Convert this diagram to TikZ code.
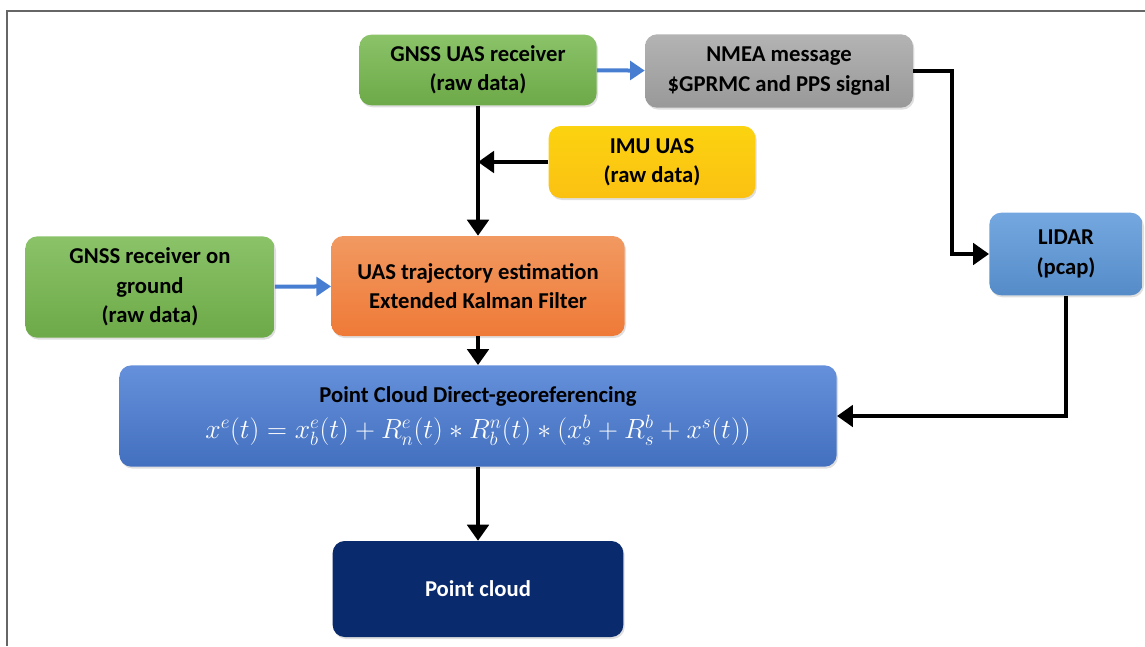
\documentclass[tikz,border=0pt]{standalone}
\usepackage{fontspec}
\setmainfont{Carlito}
\usetikzlibrary{arrows.meta,shadows}

\definecolor{gnssgreen}{RGB}{118,184,78}
\definecolor{nmeagray}{RGB}{166,166,166}
\definecolor{imuyellow}{RGB}{250,200,20}
\definecolor{trajorange}{RGB}{238,128,58}
\definecolor{lidarblue}{RGB}{92,152,218}
\definecolor{geoblue}{RGB}{74,124,212}
\definecolor{cloudnavy}{RGB}{10,42,110}
\definecolor{linkblue}{RGB}{72,126,210}

\tikzset{
  box/.style={rounded corners=9pt, align=center, inner sep=2pt,
    font=\fontsize{17}{22}\selectfont\bfseries,
    drop shadow={opacity=0.25, shadow xshift=1pt, shadow yshift=-1.5pt}},
  blackarrow/.style={line width=3.6pt, -{Triangle[width=16pt,length=12pt]}},
  bluearrow/.style={line width=3pt, linkblue, -{Triangle[width=14pt,length=11pt]}}
}

\begin{document}
\begin{tikzpicture}[x=0.75pt,y=-0.75pt]
\useasboundingbox (0,0) rectangle (1145,646);
\draw[gray!80!black, line width=1.2pt] (7,646) -- (7,11) -- (1145,11);

\node (uas) at (478,70) [box, top color=gnssgreen!85!white, bottom color=gnssgreen!92!black,
  minimum width=178pt, minimum height=53pt] {GNSS UAS receiver\\(raw data)};
\node (nmea) at (779,71) [box, top color=nmeagray!85!white, bottom color=nmeagray!92!black,
  minimum width=201pt, minimum height=55pt] {NMEA message\\\$GPRMC and PPS signal};
\node (imu) at (652,162) [box, top color=imuyellow!80!yellow, bottom color=imuyellow!90!orange,
  minimum width=155pt, minimum height=54pt] {IMU UAS\\(raw data)};
\node (ground) at (150,287) [box, top color=gnssgreen!85!white, bottom color=gnssgreen!92!black,
  minimum width=187pt, minimum height=76pt] {GNSS receiver on\\ground\\(raw data)};
\node (traj) at (478,286) [box, top color=trajorange!80!white, bottom color=trajorange!95!red,
  minimum width=220pt, minimum height=75pt] {UAS trajectory estimation\\Extended Kalman Filter};
\node (lidar) at (1066,254) [box, top color=lidarblue!85!white, bottom color=lidarblue!92!black,
  minimum width=115pt, minimum height=62pt] {LIDAR\\(pcap)};
\node (geo) at (478,416) [box, top color=geoblue!85!white, bottom color=geoblue!90!black,
  minimum width=538pt, minimum height=76pt]
  {Point Cloud Direct-georeferencing\\[5pt]
   \textcolor{white}{\mdseries\fontsize{19.5}{22}\selectfont
   $x^e(t) = x_b^e(t) + R_n^e(t) * R_b^n(t) * (x_s^b + R_s^b + x^s(t))$}};
\node (cloud) at (478,589) [box, fill=cloudnavy, text=white,
  minimum width=218pt, minimum height=72pt] {Point cloud};

\coordinate (nbend) at (952,71);

\draw[bluearrow] (uas) -- (nmea);
\draw[bluearrow] (ground) -- (traj);
\draw[blackarrow] (uas) -- (traj);
\draw[blackarrow] (imu) -- (imu -| uas);
\draw[blackarrow] (nmea) -- (nbend) |- (lidar);
\draw[blackarrow] (lidar) |- (geo);
\draw[blackarrow] (traj) -- (geo);
\draw[blackarrow] (geo) -- (cloud);
\end{tikzpicture}
\end{document}
